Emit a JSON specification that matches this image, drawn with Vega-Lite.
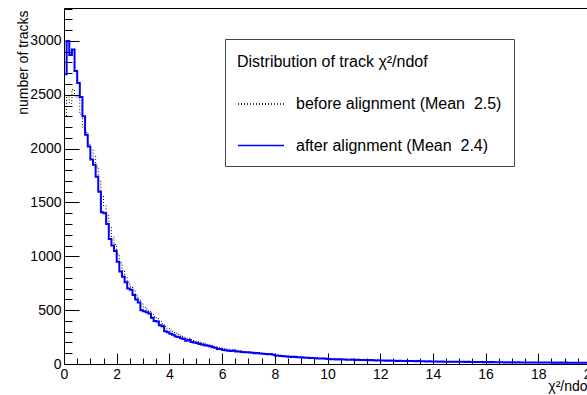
{
"$schema": "https://vega.github.io/schema/vega-lite/v6.json",
"width": 527, "height": 356,
"autosize": {"type": "none"},
"padding": {"left": 64, "top": 8, "right": -4, "bottom": 31},
"background": "white",
"config": {
  "font": "Liberation Sans",
  "view": {"stroke": "black", "strokeWidth": 1},
  "axis": {"labelFont": "Liberation Sans", "titleFont": "Liberation Sans", "domainColor": "black", "tickColor": "black", "labelColor": "black", "titleColor": "black", "grid": false, "domainWidth": 1, "tickWidth": 1}
},
"data": {"values": [
{"x":0,"a":2690,"b":2300},{"x":0.1,"a":3000,"b":2480},{"x":0.2,"a":2870,"b":2420},{"x":0.3,"a":2920,"b":2550},{"x":0.4,"a":2720,"b":2490},{"x":0.5,"a":2610,"b":2470},{"x":0.6,"a":2480,"b":2320},{"x":0.7,"a":2300,"b":2200},{"x":0.8,"a":2130,"b":2150},{"x":0.9,"a":2020,"b":2040},
{"x":1,"a":1900,"b":1990},{"x":1.1,"a":1850,"b":1930},{"x":1.2,"a":1740,"b":1830},{"x":1.3,"a":1600,"b":1700},{"x":1.4,"a":1410,"b":1560},{"x":1.5,"a":1400,"b":1470},{"x":1.6,"a":1300,"b":1380},{"x":1.7,"a":1160,"b":1270},{"x":1.8,"a":1100,"b":1180},{"x":1.9,"a":1050,"b":1110},
{"x":2,"a":950,"b":1020},{"x":2.1,"a":860,"b":940},{"x":2.2,"a":810,"b":870},{"x":2.3,"a":760,"b":810},{"x":2.4,"a":700,"b":760},{"x":2.5,"a":690,"b":720},{"x":2.6,"a":640,"b":680},{"x":2.7,"a":600,"b":640},{"x":2.8,"a":570,"b":600},{"x":2.9,"a":500,"b":560},
{"x":3,"a":490,"b":530},{"x":3.1,"a":480,"b":510},{"x":3.2,"a":470,"b":490},{"x":3.3,"a":430,"b":460},{"x":3.4,"a":400,"b":440},{"x":3.5,"a":395,"b":420},{"x":3.6,"a":360,"b":395},{"x":3.7,"a":350,"b":375},{"x":3.8,"a":305,"b":350},{"x":3.9,"a":295,"b":330},
{"x":4,"a":280,"b":315},{"x":4.1,"a":272,"b":300},{"x":4.2,"a":255,"b":285},{"x":4.3,"a":250,"b":275},{"x":4.4,"a":240,"b":262},{"x":4.5,"a":232,"b":250},{"x":4.6,"a":216,"b":240},{"x":4.7,"a":222,"b":238},{"x":4.8,"a":205,"b":226},{"x":4.9,"a":200,"b":218},
{"x":5,"a":196,"b":210},{"x":5.1,"a":186,"b":202},{"x":5.2,"a":182,"b":196},{"x":5.3,"a":175,"b":188},{"x":5.4,"a":170,"b":182},{"x":5.5,"a":166,"b":176},{"x":5.6,"a":156,"b":170},{"x":5.7,"a":150,"b":162},{"x":5.8,"a":140,"b":156},{"x":5.9,"a":139,"b":152},
{"x":6,"a":131,"b":146},{"x":6.1,"a":128,"b":140},{"x":6.2,"a":123,"b":136},{"x":6.3,"a":120,"b":132},{"x":6.4,"a":125,"b":130},{"x":6.5,"a":117,"b":126},{"x":6.6,"a":115,"b":122},{"x":6.7,"a":112,"b":120},{"x":6.8,"a":110,"b":116},{"x":6.9,"a":108,"b":114},
{"x":7,"a":106,"b":112},{"x":7.1,"a":104,"b":108},{"x":7.2,"a":100,"b":106},{"x":7.3,"a":102,"b":104},{"x":7.4,"a":98,"b":102},{"x":7.5,"a":95,"b":99},{"x":7.6,"a":93,"b":97},{"x":7.7,"a":90,"b":95},{"x":7.8,"a":92,"b":93},{"x":7.9,"a":85,"b":90},
{"x":8,"a":80,"b":86},{"x":8.1,"a":76,"b":83},{"x":8.2,"a":74,"b":80},{"x":8.3,"a":72,"b":78},{"x":8.4,"a":70,"b":76},{"x":8.5,"a":68,"b":74},{"x":8.6,"a":66,"b":72},{"x":8.7,"a":67,"b":71},{"x":8.8,"a":63,"b":69},{"x":8.9,"a":62,"b":67},
{"x":9,"a":60,"b":65},{"x":9.1,"a":58,"b":63},{"x":9.2,"a":59,"b":62},{"x":9.3,"a":56,"b":60},{"x":9.4,"a":55,"b":59},{"x":9.5,"a":54,"b":57},{"x":9.6,"a":52,"b":56},{"x":9.7,"a":51,"b":54},{"x":9.8,"a":50,"b":53},{"x":9.9,"a":48,"b":52},
{"x":10,"a":46,"b":50},{"x":10.1,"a":44,"b":49},{"x":10.2,"a":45,"b":48},{"x":10.3,"a":42,"b":46},{"x":10.4,"a":43,"b":45},{"x":10.5,"a":41,"b":44},{"x":10.6,"a":42,"b":43},{"x":10.7,"a":40,"b":42},{"x":10.8,"a":39,"b":41},{"x":10.9,"a":41,"b":40},
{"x":11,"a":38,"b":40},{"x":11.1,"a":39,"b":39},{"x":11.2,"a":37,"b":38},{"x":11.3,"a":36,"b":37},{"x":11.4,"a":37,"b":36},{"x":11.5,"a":35,"b":36},{"x":11.6,"a":36,"b":35},{"x":11.7,"a":34,"b":34},{"x":11.8,"a":33,"b":33},{"x":11.9,"a":34,"b":33},
{"x":12,"a":32,"b":32},{"x":12.1,"a":33,"b":32},{"x":12.2,"a":31,"b":31},{"x":12.3,"a":32,"b":30},{"x":12.4,"a":30,"b":30},{"x":12.5,"a":31,"b":29},{"x":12.6,"a":29,"b":29},{"x":12.7,"a":30,"b":28},{"x":12.8,"a":28,"b":27},{"x":12.9,"a":29,"b":27},
{"x":13,"a":28,"b":27},{"x":13.1,"a":27,"b":26},{"x":13.2,"a":28,"b":26},{"x":13.3,"a":26,"b":25},{"x":13.4,"a":27,"b":25},{"x":13.5,"a":25,"b":24},{"x":13.6,"a":26,"b":24},{"x":13.7,"a":24,"b":23},{"x":13.8,"a":25,"b":23},{"x":13.9,"a":24,"b":22},
{"x":14,"a":23,"b":22},{"x":14.1,"a":24,"b":22},{"x":14.2,"a":22,"b":21},{"x":14.3,"a":23,"b":21},{"x":14.4,"a":22,"b":20},{"x":14.5,"a":21,"b":20},{"x":14.6,"a":22,"b":20},{"x":14.7,"a":20,"b":19},{"x":14.8,"a":21,"b":19},{"x":14.9,"a":20,"b":19},
{"x":15,"a":21,"b":18},{"x":15.1,"a":20,"b":18},{"x":15.2,"a":19,"b":18},{"x":15.3,"a":20,"b":17},{"x":15.4,"a":19,"b":17},{"x":15.5,"a":18,"b":17},{"x":15.6,"a":19,"b":16},{"x":15.7,"a":18,"b":16},{"x":15.8,"a":19,"b":16},{"x":15.9,"a":17,"b":16},
{"x":16,"a":18,"b":15},{"x":16.1,"a":17,"b":15},{"x":16.2,"a":18,"b":15},{"x":16.3,"a":16,"b":15},{"x":16.4,"a":17,"b":14},{"x":16.5,"a":16,"b":14},{"x":16.6,"a":17,"b":14},{"x":16.7,"a":15,"b":14},{"x":16.8,"a":16,"b":14},{"x":16.9,"a":15,"b":13},
{"x":17,"a":16,"b":13},{"x":17.1,"a":15,"b":13},{"x":17.2,"a":16,"b":13},{"x":17.3,"a":14,"b":13},{"x":17.4,"a":15,"b":12},{"x":17.5,"a":14,"b":12},{"x":17.6,"a":15,"b":12},{"x":17.7,"a":14,"b":12},{"x":17.8,"a":15,"b":12},{"x":17.9,"a":13,"b":12},
{"x":18,"a":14,"b":11},{"x":18.1,"a":13,"b":11},{"x":18.2,"a":14,"b":11},{"x":18.3,"a":13,"b":11},{"x":18.4,"a":14,"b":11},{"x":18.5,"a":12,"b":11},{"x":18.6,"a":13,"b":10},{"x":18.7,"a":12,"b":10},{"x":18.8,"a":13,"b":10},{"x":18.9,"a":12,"b":10},
{"x":19,"a":13,"b":10},{"x":19.1,"a":12,"b":10},{"x":19.2,"a":12,"b":10},{"x":19.3,"a":11,"b":10},{"x":19.4,"a":12,"b":9},{"x":19.5,"a":11,"b":9},{"x":19.6,"a":12,"b":9},{"x":19.7,"a":11,"b":9},{"x":19.8,"a":11,"b":9},{"x":19.9,"a":10,"b":9},
{"x":20,"a":10,"b":9}
]},
"layer": [
 {
  "mark": {"type": "line", "interpolate": "step-after", "strokeWidth": 1, "clip": true},
  "encoding": {
   "x": {"field": "x", "type": "quantitative",
     "scale": {"domain": [0, 20], "nice": false, "zero": false},
     "axis": {"orient": "bottom", "values": [0,2,4,6,8,10,12,14,16,18,20], "format": "d", "tickSize": -11, "labelFontSize": 14, "labelPadding": 14, "labelFlush": false, "labelOverlap": false,
       "title": "χ²/ndof", "titleFontSize": 14, "titleFontWeight": "normal", "titleAnchor": "end", "titleAlign": "right", "titleBaseline": "alphabetic", "titleX": 527, "titleY": 26}},
   "y": {"field": "b", "type": "quantitative",
     "scale": {"domain": [0, 3306], "nice": false},
     "axis": {"orient": "left", "values": [0,500,1000,1500,2000,2500,3000], "format": "d", "tickSize": -15, "labelFontSize": 14, "labelPadding": 18, "labelOverlap": false,
       "title": "number of tracks", "titleFontSize": 14, "titleFontWeight": "normal", "titleAngle": -90, "titleAlign": "right", "titleBaseline": "alphabetic", "titleX": -37, "titleY": 2}},
   "color": {"datum": "before alignment (Mean \u00a02.5)", "type": "nominal",
     "scale": {"domain": ["before alignment (Mean \u00a02.5)", "after alignment (Mean \u00a02.4)"], "range": ["black", "#0000ff"]},
     "legend": {"orient": "none", "legendX": 161, "legendY": 31, "title": "Distribution of track χ²/ndof", "titleFontSize": 16, "titleFontWeight": "normal", "titleColor": "black", "titleFont": "Liberation Sans", "titlePadding": 13, "titleLimit": 400, "titleBaseline": "line-top", "titleLineHeight": 22,
       "labelFontSize": 16, "labelColor": "black", "labelFont": "Liberation Sans", "labelLimit": 400, "labelOffset": 11,
       "symbolType": "stroke", "symbolSize": 2116, "symbolStrokeWidth": 1.5, "rowPadding": 9.5,
       "strokeColor": "#444", "fillColor": "white", "padding": 12}},
   "strokeDash": {"datum": "before alignment (Mean \u00a02.5)", "type": "nominal",
     "scale": {"domain": ["before alignment (Mean \u00a02.5)", "after alignment (Mean \u00a02.4)"], "range": [[1, 2], [1, 0]]},
     "legend": {"orient": "none", "legendX": 161, "legendY": 31, "title": "Distribution of track χ²/ndof"}}
  }
 },
 {
  "mark": {"type": "line", "interpolate": "step-after", "strokeWidth": 2, "clip": true},
  "encoding": {
   "x": {"field": "x", "type": "quantitative",
     "axis": {"orient": "bottom", "values": [0.5,1,1.5,2.5,3,3.5,4.5,5,5.5,6.5,7,7.5,8.5,9,9.5,10.5,11,11.5,12.5,13,13.5,14.5,15,15.5,16.5,17,17.5,18.5,19,19.5], "tickSize": -6, "labels": false, "domain": false, "title": null}},
   "y": {"field": "a", "type": "quantitative",
     "axis": {"orient": "left", "values": [100,200,300,400,600,700,800,900,1100,1200,1300,1400,1600,1700,1800,1900,2100,2200,2300,2400,2600,2700,2800,2900,3100,3200,3300], "tickSize": -8, "labels": false, "domain": false, "title": null}},
   "color": {"datum": "after alignment (Mean \u00a02.4)", "type": "nominal"},
   "strokeDash": {"datum": "after alignment (Mean \u00a02.4)", "type": "nominal"}
  }
 }
],
"resolve": {"axis": {"x": "independent", "y": "independent"}}
}
